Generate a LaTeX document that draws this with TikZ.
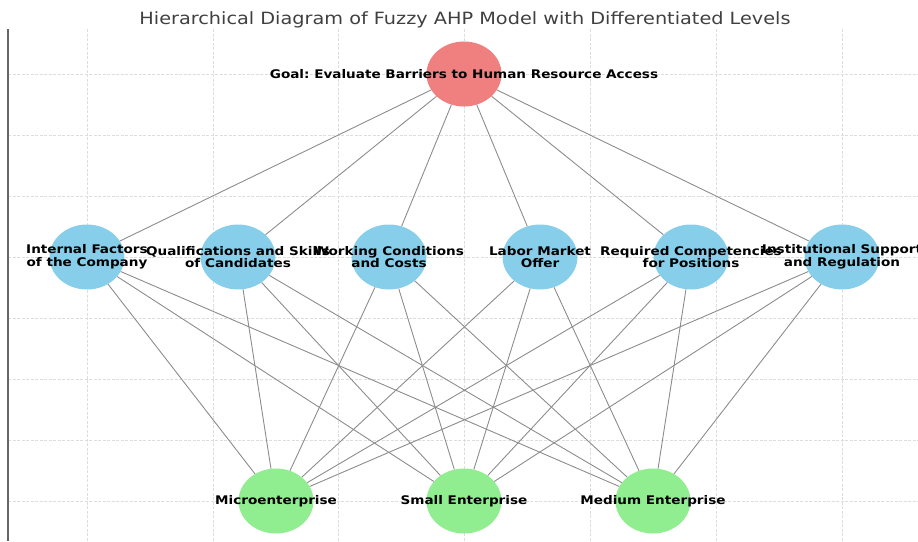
\documentclass[tikz,border=0pt]{standalone}
\usepackage{fontspec}
\setmainfont{DejaVu Sans}[FakeStretch=1.14]
\usetikzlibrary{shapes.geometric}
\definecolor{goalc}{HTML}{F08080}
\definecolor{critc}{HTML}{87CEEB}
\definecolor{altc}{HTML}{90EE90}
\definecolor{gridc}{HTML}{DDDDDD}
\definecolor{edgec}{HTML}{8C8C8C}
\definecolor{titlec}{HTML}{404040}
\tikzset{
  blob/.style={ellipse, minimum width=75pt, minimum height=65pt, inner sep=0pt, draw=none},
  goalnode/.style={blob, fill=goalc},
  critnode/.style={blob, fill=critc},
  altnode/.style={blob, fill=altc},
  lbl/.style={font=\bfseries\fontsize{11.9}{12.6}\selectfont, align=center, inner sep=0pt, text=black},
  edge/.style={draw=edgec, line width=0.9pt},
  gridline/.style={draw=gridc, line width=0.6pt, dash pattern=on 3pt off 1.5pt},
}
\frenchspacing
\begin{document}
\begin{tikzpicture}[x=1pt,y=-1pt]
\useasboundingbox (0,0) rectangle (918,541);
% grid
\foreach \gx in {87,212.8,338.6,464.4,590.2,716,841.8}
  \draw[gridline] (\gx,29) -- (\gx,541);
\foreach \gy in {74,135,196,257,318,379,440,501}
  \draw[gridline] (8,\gy) -- (918,\gy);
% left spine
\draw[draw=gray!80!black, line width=1.3pt] (8,29) -- (8,541);
% title
\node[font=\fontsize{16.9}{20}\selectfont, text=titlec, inner sep=0pt, anchor=base] (title) at (465,24) {Hierarchical Diagram of Fuzzy AHP Model with Differentiated Levels};
% nodes
\node[goalnode] (g) at (464,74) {};
\node[critnode] (c1) at (87,257) {};
\node[critnode] (c2) at (238,257) {};
\node[critnode] (c3) at (389,257) {};
\node[critnode] (c4) at (540,257) {};
\node[critnode] (c5) at (691,257) {};
\node[critnode] (c6) at (842,257) {};
\node[altnode] (a1) at (276,501) {};
\node[altnode] (a2) at (464,501) {};
\node[altnode] (a3) at (653,501) {};
% edges
\foreach \c in {c1,c2,c3,c4,c5,c6} {
  \draw[edge] (g) -- (\c);
  \foreach \a in {a1,a2,a3}
    \draw[edge] (\c) -- (\a);
}
% labels
\node[lbl] (lg) at (464,74) {Goal: Evaluate Barriers to Human Resource Access};
\node[lbl] (l1) at (87,257) {Internal Factors\\of the Company};
\node[lbl] (l2) at (238,257) {Qualifications and Skills\\of Candidates};
\node[lbl] (l3) at (389,257) {Working Conditions\\and Costs};
\node[lbl] (l4) at (540,257) {Labor Market\\Offer};
\node[lbl] (l5) at (691,257) {Required Competencies\\for Positions};
\node[lbl] (l6) at (842,257) {Institutional Support\\and Regulation};
\node[lbl] (m1) at (276,501) {Microenterprise};
\node[lbl] (m2) at (464,501) {Small Enterprise};
\node[lbl] (m3) at (653,501) {Medium Enterprise};
\end{tikzpicture}
\end{document}
